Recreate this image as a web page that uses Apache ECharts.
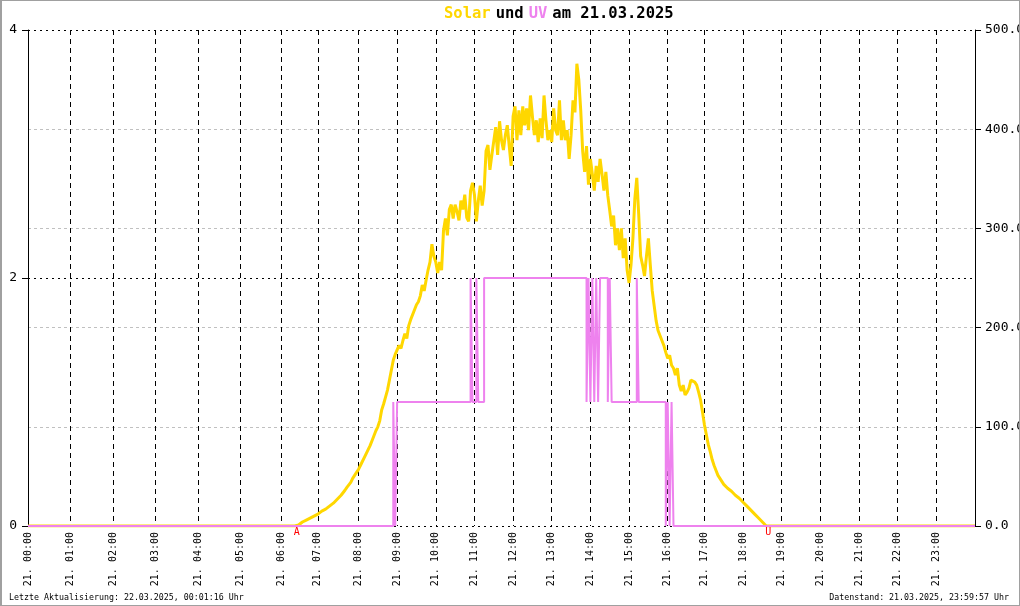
<!DOCTYPE html>
<html><head><meta charset="utf-8">
<script src="https://cdn.jsdelivr.net/npm/echarts@6/dist/echarts.min.js"></script>
<style>
html,body{margin:0;padding:0;background:#fff;}
#wrap{position:relative;width:1020px;height:606px;}
#chart{width:1020px;height:606px;}
#frame{position:absolute;left:0;top:0;width:1020px;height:606px;box-sizing:border-box;border:1px solid #a0a0a0;border-left-width:2px;pointer-events:none;}
</style></head><body>
<div id="wrap"><div id="chart"></div><div id="frame"></div></div>
<script>
// ---- data ----
const sampleCount = 491;
const hourTicks = [0,22,44,66,88,110,131,150,171,191,211,231,251,271,291,311,331,350,370,390,410,430,450,470];
const hourLabels = ['21. 00:00','21. 01:00','21. 02:00','21. 03:00','21. 04:00','21. 05:00','21. 06:00','21. 07:00',
  '21. 08:00','21. 09:00','21. 10:00','21. 11:00','21. 12:00','21. 13:00','21. 14:00','21. 15:00','21. 16:00',
  '21. 17:00','21. 18:00','21. 19:00','21. 20:00','21. 21:00','21. 22:00','21. 23:00'];
const uvTicks = [0, 2, 4];
const solarTicks = [0, 100, 200, 300, 400, 500];
// solar (W/m²) from sample 139 (sunrise) to 382 (sunset)
const solarStart = 139;
const solarDay = [
  0,1,3,4,5,6,7,8,9,10,11,12,13,15,16,17,19,20,22,23,
  25,27,29,31,33,36,39,41,44,48,51,54,57,61,65,69,73,77,81,86,
  91,96,100,106,117,123,130,137,147,157,167,173,175,182,179,187,194,189,202,208,
  206,218,223,226,232,243,237,248,258,266,284,272,266,255,266,258,298,310,293,319,
  324,310,324,317,308,328,319,334,311,307,338,346,334,307,328,343,323,338,378,384,
  359,374,388,402,374,408,389,379,394,404,383,363,413,423,389,419,394,423,404,421,
  399,434,413,394,409,387,411,391,434,409,389,399,387,421,399,394,429,389,409,389,
  399,370,394,429,417,466,450,419,378,357,383,344,370,355,338,363,347,370,355,338,
  357,333,318,302,313,283,300,278,300,270,290,258,245,263,290,330,351,314,272,263,
  252,272,290,263,237,222,207,197,199,187,182,175,169,172,162,159,152,159,142,136,
  142,132,135,139,147,149,145,142,135,127,115,102,92,82,75,67,61,56,51,48,
  45,42,40,38,37,35,33,31,29,28,26,24,22,20,18,16,14,12,10,8,
  6,4,2,0
];
// UV index: [sample, new value]
const uvChanges = [[0,0],[189,1],[190,0],[191,1],[229,2],[230,1],[232,2],[233,1],[236,2],
  [289,1],[290,2],[291,1],[292,2],[293,1],[294,2],[295,1],[296,2],[300,1],[301,2],[302,1],
  [315,2],[316,1],[330,0],[331,1],[332,0],[333,1],[334,0],[490,0]];
const sunMarks = [['A',139],['U',383]];
const titleParts = ['Solar','und','UV','am 21.03.2025'];
const footLeft = 'Letzte Aktualisierung: 22.03.2025, 00:01:16 Uhr';
const footRight = 'Datenstand: 21.03.2025, 23:59:57 Uhr';

// ---- build ----
const tickSet = new Set(hourTicks);
const categories = [];
for (let i = 0; i < sampleCount; i++) {
  const h = hourTicks.indexOf(i);
  categories.push(h >= 0 ? hourLabels[h] : String(i));
}
const solar = new Array(sampleCount).fill(0);
solarDay.forEach((v, k) => { solar[solarStart + k] = v; });

const mono = 'DejaVu Sans Mono';
const chart = echarts.init(document.getElementById('chart'), null, {renderer:'canvas'});
chart.setOption({
  animation: false,
  backgroundColor: '#fff',
  title: [
    { text: `{s|${titleParts[0]}} {b|${titleParts[1]}} {u|${titleParts[2]}} {b|${titleParts[3]}}`,
      left: 439, top: 0, padding: 5,
      textStyle: { rich: {
        s: {color:'#FFD700', fontFamily:mono, fontSize:15.5, fontWeight:'bold'},
        u: {color:'#EE82EE', fontFamily:mono, fontSize:15.5, fontWeight:'bold'},
        b: {color:'#000', fontFamily:mono, fontSize:15.5, fontWeight:'bold'} } } },
    { text: footLeft, left: 9, top: 594, padding: 0, textStyle:{fontFamily:mono, fontSize:8.3, fontWeight:'normal', color:'#000'} },
    { text: footRight, right: 11, top: 594, padding: 0, textStyle:{fontFamily:mono, fontSize:8.3, fontWeight:'normal', color:'#000'} }
  ],
  grid: { left: 28, right: 45, top: 30, bottom: 80, containLabel: false, outerBoundsMode: 'none' },
  xAxis: {
    type: 'category', data: categories, boundaryGap: false,
    axisLine: { show: false }, axisTick: { show: false },
    axisLabel: { interval: (i) => tickSet.has(i), rotate: 90, margin: 6,
      fontFamily: mono, fontSize: 10, color: '#000' },
    splitLine: { show: true, interval: (i) => tickSet.has(i) && i > 0,
      lineStyle: { color: '#000', type: [5,4], width: 1 } }
  },
  yAxis: [
    { type: 'value', position: 'left', min: uvTicks[0], max: uvTicks[uvTicks.length-1], interval: uvTicks[1]-uvTicks[0],
      axisLine: { show: true, lineStyle: { color: '#000', width: 1 } },
      axisTick: { show: true, length: 6, lineStyle: { color: '#000' } },
      axisLabel: { margin: 11, color: '#000', fontFamily: mono, fontSize: 13 },
      splitLine: { show: true, lineStyle: { color: '#000', type: [2,4], width: 1 } } },
    { type: 'value', position: 'right', min: solarTicks[0], max: solarTicks[solarTicks.length-1], interval: solarTicks[1]-solarTicks[0],
      axisLine: { show: true, lineStyle: { color: '#000', width: 1 } },
      axisTick: { show: true, length: 6, lineStyle: { color: '#000' } },
      axisLabel: { margin: 10, color: '#000', fontFamily: mono, fontSize: 13, formatter: (v) => v.toFixed(1) },
      splitLine: { show: true, showMaxLine: false, showMinLine: false, lineStyle: { color: '#c0c0c0', type: [3,3], width: 1 } } }
  ],
  series: [
    { name: 'Solar', type: 'line', yAxisIndex: 1, data: solar, showSymbol: false, symbol: 'none',
      lineStyle: { color: '#FFD700', width: 3 }, itemStyle: { color: '#FFD700' }, z: 2,
      markPoint: { symbol: 'circle', symbolSize: 0, silent: true,
        label: { show: true, position: 'bottom', distance: 1, color: '#ff0000', fontFamily: mono, fontSize: 10,
          formatter: (p) => p.name },
        data: sunMarks.map(m => ({ name: m[0], coord: [m[1], 0] })) } },
    { name: 'UV', type: 'line', yAxisIndex: 0, data: uvChanges, step: 'end', showSymbol: false, symbol: 'none',
      lineStyle: { color: '#EE82EE', width: 2 }, itemStyle: { color: '#EE82EE' }, z: 3 }
  ]
});
</script>
</body></html>
